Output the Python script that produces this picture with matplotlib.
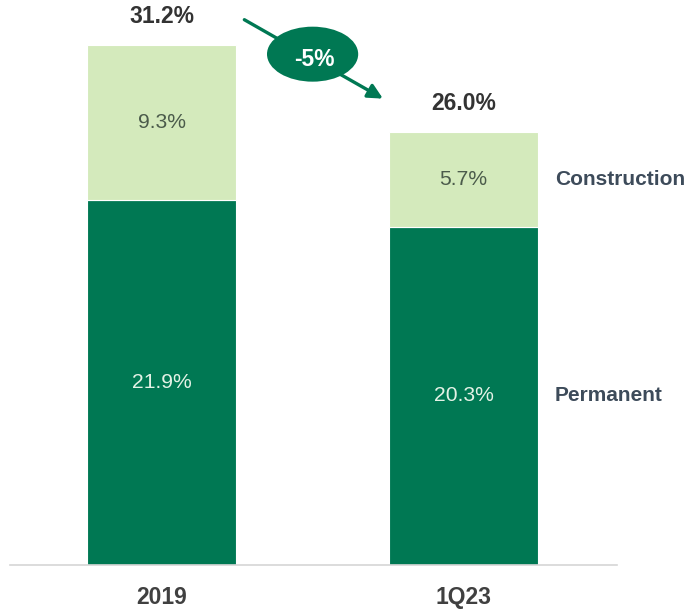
import matplotlib
matplotlib.use('Agg')
import matplotlib.pyplot as plt
from matplotlib.patches import Ellipse, FancyArrowPatch

plt.rcParams['font.family'] = ['Liberation Sans', 'DejaVu Sans']

categories = ['2019', '1Q23']
permanent = [21.9, 20.3]
construction = [9.3, 5.7]
totals = [31.2, 26.0]
series_names = ['Construction', 'Permanent']
change_label = '-5%'

dark_green = '#007853'
light_green = '#d4eabc'

fig = plt.figure(figsize=(6.98, 6.11), dpi=100)
# axes placed in pixel terms: x 10..617, y 0..565 (from top)
ax = fig.add_axes([10 / 698, 46 / 611, 607 / 698, 565 / 611])

x = range(len(categories))
w = 0.493
ax.bar(x, permanent, width=w, color=dark_green, edgecolor='white', linewidth=0.8)
ax.bar(x, construction, width=w, bottom=permanent, color=light_green,
       edgecolor='white', linewidth=0.8)

for i in x:
    ax.text(i, permanent[i] / 2, f'{permanent[i]:.1f}%', ha='center', va='center',
            fontsize=15.2, color='#e4f2e6')
    ax.text(i, permanent[i] + construction[i] / 2, f'{construction[i]:.1f}%',
            ha='center', va='center', fontsize=15.2, color='#4b5b4b')
    ax.text(i, totals[i] + 1.7, f'{totals[i]:.1f}%', ha='center', va='center',
            fontsize=16.5, fontweight='bold', color='#333333')

# series labels beside the last bar
last = len(categories) - 1
ax.text(1.303, permanent[last] + construction[last] / 2, series_names[0],
        ha='left', va='center', fontsize=15, fontweight='bold', color='#3d4b5a')
ax.text(1.303, permanent[last] / 2, series_names[1],
        ha='left', va='center', fontsize=15, fontweight='bold', color='#3d4b5a')

# change arrow + bubble
arr = FancyArrowPatch((0.266, 32.8), (0.741, 27.9), arrowstyle='-|>',
                      mutation_scale=22, color=dark_green, lw=2.4, clip_on=False)
ax.add_patch(arr)
ell = Ellipse((0.5, 30.65), 0.302, 3.3, facecolor=dark_green,
              edgecolor='none', clip_on=False, zorder=3)
ax.add_patch(ell)
ax.text(0.505, 30.3, change_label, ha='center', va='center', fontsize=16.5,
        fontweight='bold', color='white', zorder=4)

ax.set_xlim(-0.502, 1.508)
ax.set_ylim(0, 33.9)
ax.set_xticks(list(x))
ax.set_xticklabels(categories, fontsize=16.5, fontweight='bold', color='#404040')
ax.tick_params(axis='x', length=0, pad=15)
ax.set_yticks([])
for s in ['top', 'right', 'left']:
    ax.spines[s].set_visible(False)
ax.spines['bottom'].set_color('#d6d6d6')
ax.spines['bottom'].set_linewidth(1.2)

fig.savefig('out.png', dpi=100)
